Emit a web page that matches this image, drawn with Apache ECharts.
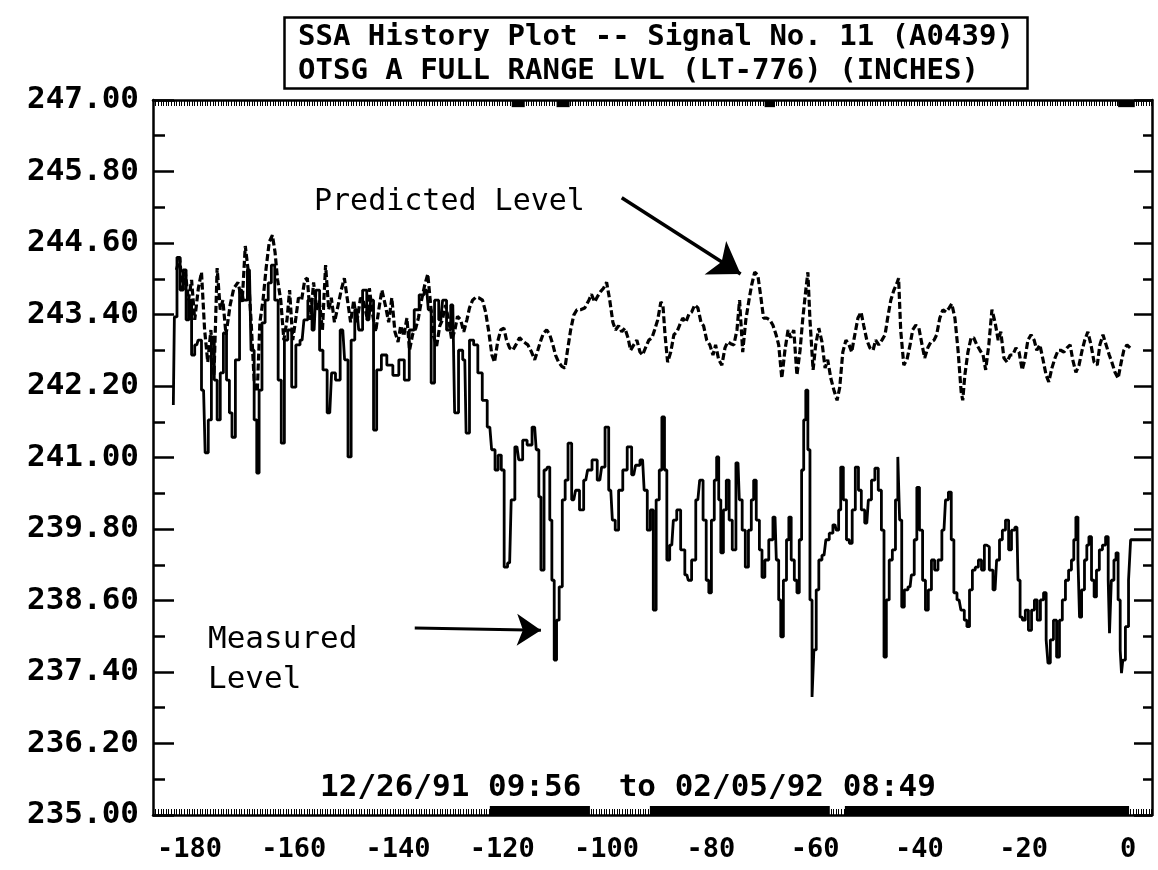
<!DOCTYPE html>
<html>
<head>
<meta charset="utf-8">
<script src="https://cdn.jsdelivr.net/npm/echarts@6/dist/echarts.min.js"></script>
<style>html,body{margin:0;padding:0;background:#fff}#c{width:1158px;height:870px}</style>
</head>
<body>
<div id="c"></div>
<script>
const titleLines = ['SSA History Plot -- Signal No. 11 (A0439)', 'OTSG A FULL RANGE LVL (LT-776) (INCHES)'];
const dateRange = '12/26/91 09:56  to 02/05/92 08:49';
const xTicks = [-180, -160, -140, -120, -100, -80, -60, -40, -20, 0];
const yTicks = [235.0, 236.2, 237.4, 238.6, 239.8, 241.0, 242.2, 243.4, 244.6, 245.8, 247.0];
const yMinorTicks = [235.6, 236.8, 238.0, 239.2, 240.4, 241.6, 242.8, 244.0, 245.2, 246.4];

// Measured level [time, inches]
const measured = [
[-183.1,241.88],[-182.7,243.36],[-182.1,244.36],[-181.5,243.81],[-180.9,244.15],[-180.4,243.31],[-179.8,243.64],[-179.4,242.72],[-178.6,242.89],[-178.1,242.97],
[-177.3,242.13],[-176.7,241.08],[-176.1,241.63],[-175.5,243.02],[-175.0,242.30],[-174.4,241.63],[-173.8,242.42],[-173.2,243.09],[-172.6,242.30],[-172.1,241.75],
[-171.6,241.34],[-170.8,242.64],[-170.0,243.81],[-169.3,243.64],[-168.5,244.15],[-167.9,242.80],[-167.3,241.63],[-166.9,240.74],[-166.4,242.13],[-165.8,243.26],
[-165.2,243.64],[-164.6,243.93],[-164.0,244.23],[-163.3,243.64],[-162.7,242.30],[-162.1,241.24],[-161.5,242.97],[-160.8,243.14],[-160.0,242.18],[-159.2,242.89],
[-158.4,242.97],[-157.7,243.31],[-156.9,243.64],[-156.1,243.14],[-155.4,243.81],[-154.7,242.80],[-154.1,242.47],[-153.1,241.75],[-152.4,242.42],[-151.6,242.30],
[-150.6,243.14],[-149.9,242.64],[-149.3,241.01],[-148.7,242.97],[-147.9,243.48],[-147.2,243.14],[-146.4,243.81],[-145.6,243.31],[-144.9,243.64],[-144.5,241.46],
[-143.7,242.47],[-142.7,242.72],[-141.6,242.55],[-140.4,242.38],[-139.3,242.64],[-138.3,242.30],[-137.4,243.14],[-136.4,243.48],[-135.5,243.73],[-134.5,243.81],
[-133.9,243.48],[-133.4,242.25],[-132.6,243.64],[-131.8,243.31],[-131.1,243.64],[-130.3,243.14],[-129.5,243.56],[-128.8,241.75],[-128.0,242.80],[-127.2,242.64],
[-126.7,241.41],[-125.9,242.97],[-125.1,242.89],[-124.3,242.42],[-123.4,241.96],[-122.4,241.51],[-121.7,241.13],[-121.1,240.79],[-120.5,241.04],[-119.9,240.79],
[-119.4,239.16],[-118.6,239.23],[-118.0,240.29],[-117.2,241.18],[-116.5,240.96],[-115.7,241.29],[-114.8,241.21],[-113.8,241.51],[-113.2,241.13],[-112.8,240.34],
[-112.4,239.11],[-111.6,240.79],[-111.1,240.84],[-110.7,239.95],[-110.3,238.94],[-109.8,237.60],[-109.4,238.27],[-108.8,238.83],[-108.2,240.29],[-107.7,240.62],
[-107.1,241.24],[-106.3,240.29],[-105.6,240.45],[-104.8,240.12],[-104.0,240.62],[-103.3,240.79],[-102.3,240.96],[-101.3,240.62],[-100.6,240.84],[-100.0,241.51],
[-99.2,240.45],[-98.6,239.95],[-98.1,239.78],[-97.3,240.45],[-96.5,240.79],[-95.6,241.18],[-94.8,240.71],[-94.1,240.87],[-93.1,240.96],[-92.5,240.45],
[-91.9,239.78],[-91.3,240.12],[-90.8,238.44],[-90.2,240.29],[-89.6,240.79],[-89.2,241.68],[-88.6,240.79],[-88.3,239.28],[-87.5,239.53],[-86.9,239.95],
[-86.2,240.12],[-85.4,239.45],[-84.6,239.03],[-84.1,238.94],[-83.3,239.28],[-82.5,240.29],[-81.8,240.62],[-81.2,239.95],[-80.6,238.94],[-80.2,238.73],
[-79.6,239.95],[-79.1,240.62],[-78.7,241.01],[-78.3,240.29],[-77.9,239.40],[-77.3,240.12],[-76.8,240.62],[-76.2,239.95],[-75.6,239.45],[-74.8,240.91],
[-74.3,240.29],[-73.7,239.78],[-73.1,239.16],[-72.5,239.78],[-72.0,240.29],[-71.6,240.62],[-71.0,239.95],[-70.4,239.45],[-70.0,238.99],[-69.3,239.28],
[-68.5,239.62],[-67.7,240.00],[-67.2,239.28],[-66.8,238.61],[-66.4,237.99],[-65.8,238.94],[-65.2,239.62],[-64.9,240.00],[-64.3,239.28],[-63.7,238.94],
[-63.3,238.73],[-62.8,239.62],[-62.4,240.79],[-62.0,241.63],[-61.6,242.13],[-61.2,241.13],[-60.8,238.61],[-60.4,236.98],[-60.1,237.77],[-59.5,238.78],
[-59.1,239.28],[-58.3,239.36],[-57.6,239.62],[-57.0,239.73],[-56.2,239.87],[-55.7,239.78],[-55.3,240.12],[-54.9,240.84],[-54.3,240.29],[-53.7,239.62],
[-53.2,239.56],[-52.6,240.12],[-52.0,240.84],[-51.4,240.45],[-50.9,240.12],[-50.1,239.90],[-49.5,240.29],[-48.9,240.62],[-48.2,240.82],[-47.6,240.45],
[-47.0,239.78],[-46.6,237.65],[-46.1,238.61],[-45.5,239.28],[-44.9,239.45],[-44.3,240.29],[-44.0,241.01],[-43.6,239.95],[-43.2,238.49],[-42.6,238.78],
[-41.8,238.83],[-41.3,239.03],[-40.7,239.62],[-40.3,240.50],[-39.7,239.78],[-39.1,238.94],[-38.6,238.44],[-38.0,238.78],[-37.4,239.28],[-36.8,239.11],
[-36.1,239.28],[-35.3,239.78],[-34.7,240.29],[-34.2,240.42],[-33.6,239.62],[-33.2,238.73],[-32.4,238.61],[-31.7,238.44],[-31.1,238.27],[-30.7,238.16],
[-30.1,238.78],[-29.6,239.11],[-29.0,239.16],[-28.4,239.28],[-27.8,239.11],[-27.3,239.53],[-26.9,239.50],[-26.3,239.11],[-25.5,238.78],[-24.9,239.28],
[-24.4,239.62],[-23.8,239.78],[-23.2,239.95],[-22.6,239.45],[-22.1,239.78],[-21.3,239.83],[-20.9,238.94],[-20.5,238.32],[-20.0,238.27],[-19.4,238.44],
[-18.8,238.10],[-18.2,238.44],[-17.7,238.61],[-17.1,238.27],[-16.5,238.61],[-15.9,238.73],[-15.5,237.94],[-15.2,237.55],[-14.6,237.94],[-14.0,238.27],
[-13.4,237.65],[-12.9,238.27],[-12.3,238.61],[-11.7,238.94],[-11.1,239.11],[-10.6,239.28],[-10.2,239.62],[-9.8,240.00],[-9.4,239.28],[-9.2,238.32],
[-8.6,238.78],[-8.1,239.28],[-7.7,239.53],[-7.3,239.67],[-6.7,238.94],[-6.3,238.66],[-5.8,239.11],[-5.2,239.45],[-4.6,239.53],[-4.0,239.67],
[-3.6,238.94],[-3.5,238.05],[-2.9,238.94],[-2.5,239.28],[-2.1,239.40],[-1.7,238.61],[-1.3,237.77],[-1.2,237.38],[-0.8,237.60],[-0.2,238.16],
[0.4,238.94],[0.6,239.62],[4.4,239.62]
];

// Predicted level [time, inches]
const predicted = [
[-182.5,244.15],[-181.9,244.35],[-181.3,243.81],[-180.8,244.11],[-180.2,243.64],[-179.6,243.98],[-179.0,243.31],[-178.3,243.84],[-177.7,244.11],[-177.1,243.14],
[-176.5,242.60],[-175.9,243.14],[-175.3,242.38],[-174.7,244.18],[-174.1,243.48],[-173.6,243.64],[-173.0,243.06],[-172.2,243.56],[-171.5,243.84],[-170.7,243.94],
[-169.9,243.61],[-169.3,244.55],[-168.8,244.18],[-168.2,243.31],[-167.6,242.30],[-167.0,242.10],[-166.5,243.27],[-165.9,243.64],[-165.3,244.18],[-164.7,244.62],
[-164.1,244.73],[-163.6,244.45],[-163.1,243.98],[-162.5,243.64],[-161.9,242.97],[-161.3,243.31],[-160.8,243.81],[-160.2,242.97],[-159.6,243.34],[-159.1,243.68],
[-158.5,243.64],[-157.9,243.98],[-157.4,244.01],[-156.8,243.31],[-156.2,243.94],[-155.6,243.48],[-155.1,243.64],[-154.5,243.14],[-153.9,244.23],[-153.3,243.48],
[-152.8,243.68],[-152.2,243.27],[-151.6,243.51],[-150.9,243.81],[-150.3,244.01],[-149.7,243.64],[-149.1,243.27],[-148.5,243.64],[-147.9,243.27],[-147.2,243.68],
[-146.6,243.61],[-146.0,243.37],[-145.5,243.84],[-144.9,243.41],[-144.3,243.11],[-143.7,243.48],[-143.1,243.81],[-142.4,243.54],[-141.8,243.27],[-141.2,243.68],
[-140.6,243.11],[-140.0,242.94],[-139.5,243.21],[-138.9,243.04],[-138.3,243.34],[-137.8,242.80],[-137.2,243.07],[-136.6,243.17],[-136.1,243.34],[-135.5,243.64],
[-134.9,243.89],[-134.3,244.08],[-133.8,243.61],[-133.2,243.04],[-132.6,242.87],[-132.0,243.21],[-131.5,243.31],[-130.9,243.56],[-130.3,243.31],[-129.7,242.97],
[-129.1,243.14],[-128.6,243.37],[-128.0,243.31],[-127.4,243.11],[-126.8,243.31],[-126.3,243.51],[-125.7,243.64],[-125.1,243.69],[-124.5,243.68],[-123.8,243.64],
[-123.2,243.44],[-122.6,243.11],[-122.0,242.72],[-121.5,242.60],[-120.9,242.94],[-120.3,243.14],[-119.7,243.17],[-119.2,242.97],[-118.6,242.84],[-118.0,242.80],
[-117.4,242.89],[-116.7,243.01],[-115.9,242.94],[-115.1,242.89],[-114.4,242.77],[-113.8,242.64],[-113.2,242.80],[-112.6,242.97],[-112.1,243.09],[-111.5,243.14],
[-110.9,243.06],[-110.3,242.89],[-109.8,242.72],[-109.2,242.60],[-108.6,242.53],[-108.0,242.50],[-107.5,242.80],[-106.9,243.14],[-106.3,243.39],[-105.7,243.48],
[-105.0,243.48],[-104.2,243.51],[-103.4,243.64],[-102.9,243.74],[-102.3,243.61],[-101.7,243.71],[-101.2,243.78],[-100.6,243.84],[-100.0,243.94],[-99.4,243.64],
[-98.8,243.27],[-98.3,243.14],[-97.7,243.21],[-97.1,243.11],[-96.5,243.17],[-95.9,243.01],[-95.4,242.80],[-94.8,242.89],[-94.2,242.97],[-93.6,242.77],
[-93.1,242.72],[-92.5,242.85],[-91.9,242.97],[-91.3,243.01],[-90.8,243.14],[-90.2,243.31],[-89.6,243.61],[-89.2,243.56],[-88.8,243.06],[-88.3,242.60],
[-87.7,242.77],[-87.1,243.06],[-86.5,243.11],[-86.0,243.22],[-85.4,243.34],[-84.8,243.27],[-84.2,243.41],[-83.7,243.44],[-83.1,243.56],[-82.5,243.51],
[-81.9,243.27],[-81.4,243.21],[-80.8,242.97],[-80.2,242.89],[-79.6,242.72],[-79.1,242.89],[-78.5,242.64],[-77.9,242.55],[-77.3,242.84],[-76.8,242.94],
[-76.2,242.91],[-75.6,242.89],[-75.0,243.14],[-74.5,243.64],[-73.9,242.77],[-73.3,243.31],[-72.7,243.64],[-72.2,243.89],[-71.6,244.11],[-71.0,244.06],
[-70.4,243.68],[-69.9,243.34],[-69.3,243.34],[-68.7,243.31],[-68.1,243.22],[-67.5,243.06],[-67.0,242.89],[-66.4,242.33],[-65.8,242.80],[-65.2,243.14],
[-64.7,243.01],[-64.1,243.14],[-63.5,242.38],[-62.9,242.80],[-62.4,243.31],[-61.8,243.81],[-61.4,244.11],[-61.0,243.31],[-60.4,242.47],[-59.9,242.89],
[-59.3,243.17],[-58.7,242.94],[-58.1,242.50],[-57.6,242.64],[-57.0,242.33],[-56.4,242.13],[-55.8,241.96],[-55.3,242.17],[-54.7,242.77],[-54.1,242.97],
[-53.5,242.89],[-53.0,242.77],[-52.4,243.06],[-51.8,243.34],[-51.2,243.44],[-50.7,243.22],[-50.1,242.97],[-49.5,242.84],[-48.9,242.80],[-48.4,242.97],
[-47.8,242.89],[-47.2,242.97],[-46.6,243.06],[-46.1,243.34],[-45.5,243.64],[-44.9,243.81],[-44.3,243.93],[-44.0,244.01],[-43.6,243.14],[-43.0,242.55],
[-42.4,242.64],[-41.8,242.89],[-41.3,243.14],[-40.7,243.22],[-40.1,243.17],[-39.5,242.89],[-39.0,242.67],[-38.4,242.84],[-37.8,242.94],[-37.2,242.97],
[-36.7,243.06],[-36.1,243.34],[-35.5,243.48],[-34.9,243.44],[-34.3,243.51],[-33.8,243.58],[-33.2,243.34],[-32.6,242.80],[-32.0,242.10],[-31.7,241.96],
[-31.3,242.38],[-30.7,242.77],[-30.1,243.01],[-29.6,243.01],[-29.0,242.89],[-28.4,242.80],[-27.8,242.72],[-27.3,242.47],[-26.7,242.89],[-26.1,243.48],
[-25.5,243.27],[-24.9,242.97],[-24.4,243.11],[-23.8,242.67],[-23.2,242.60],[-22.6,242.72],[-22.1,242.72],[-21.5,242.84],[-20.9,242.77],[-20.3,242.47],
[-19.8,242.64],[-19.2,242.97],[-18.6,243.06],[-18.0,242.97],[-17.5,242.80],[-16.9,242.89],[-16.3,242.64],[-15.7,242.38],[-15.2,242.27],[-14.6,242.50],
[-14.0,242.67],[-13.4,242.80],[-12.9,242.80],[-12.3,242.77],[-11.7,242.84],[-11.1,242.89],[-10.6,242.64],[-10.0,242.43],[-9.4,242.55],[-8.8,242.80],
[-8.3,242.97],[-7.7,243.11],[-7.1,242.89],[-6.5,242.60],[-5.9,242.55],[-5.4,242.89],[-4.8,243.06],[-4.2,242.89],[-3.6,242.72],[-3.1,242.60],
[-2.5,242.43],[-1.9,242.33],[-1.3,242.60],[-0.8,242.80],[-0.2,242.89],[0.4,242.84]
];

// dense sample-marker bands along the frame edges [from, to]
const bottomBands = [[-122.4, -103.2], [-91.7, -57.2], [-54.3, 0.2]];
const topBands = [[-118.2, -115.7], [-109.6, -107.1], [-69.7, -67.7], [-1.9, 1.3]];

// annotation arrows [[t1, v1], [t2, v2]]
const predictedArrow = [[-97.1, 245.36], [-74.3, 244.08]];
const measuredArrow = [[-136.8, 238.14], [-112.6, 238.10]];

const X_MIN = -187, X_MAX = 4.6, Y_MIN = 235, Y_MAX = 247;
const MONO = '"DejaVu Sans Mono", "Liberation Mono", monospace';

const chart = echarts.init(document.getElementById('c'), null, {renderer: 'canvas'});

const baseX = {type: 'value', min: X_MIN, max: X_MAX, gridIndex: 0, splitLine: {show: false}};
const baseY = {type: 'value', min: Y_MIN, max: Y_MAX, gridIndex: 0, splitLine: {show: false}};
const LINE = {color: '#000', width: 2.5};

const option = {
  animation: false,
  backgroundColor: '#fff',
  title: {
    text: titleLines.join('\n'),
    left: 284, top: 17,
    borderColor: '#000', borderWidth: 2.5,
    padding: [3, 14, 1, 14],
    textStyle: {fontFamily: MONO, fontSize: 29, fontWeight: 'bold', color: '#000', lineHeight: 34}
  },
  grid: {left: 153, right: 6, top: 100, bottom: 55, containLabel: false},
  xAxis: [
    Object.assign({}, baseX, {
      position: 'bottom',
      axisLine: {show: true, onZero: false, lineStyle: LINE},
      axisTick: {show: false},
      axisLabel: {customValues: xTicks, margin: 21, color: '#000', fontFamily: MONO, fontSize: 27, fontWeight: 'bold',
        formatter: v => String(Math.round(v))}
    }),
    Object.assign({}, baseX, {
      position: 'bottom', interval: 0.5,
      axisLine: {show: false, onZero: false},
      axisTick: {show: true, inside: true, length: 6, lineStyle: {color: '#000', width: 1}},
      axisLabel: {show: false}
    }),
    Object.assign({}, baseX, {
      position: 'top', interval: 0.5,
      axisLine: {show: true, onZero: false, lineStyle: LINE},
      axisTick: {show: true, inside: true, length: 6, lineStyle: {color: '#000', width: 1}},
      axisLabel: {show: false}
    })
  ],
  yAxis: [
    Object.assign({}, baseY, {
      position: 'left',
      axisLine: {show: true, onZero: false, lineStyle: LINE},
      axisTick: {show: true, inside: true, length: 21, customValues: yTicks, lineStyle: LINE},
      axisLabel: {customValues: yTicks, margin: 14, color: '#000', fontFamily: MONO, fontSize: 31, fontWeight: 'bold',
        formatter: v => v.toFixed(2)}
    }),
    Object.assign({}, baseY, {
      position: 'left',
      axisLine: {show: false, onZero: false},
      axisTick: {show: true, inside: true, length: 12, customValues: yMinorTicks, lineStyle: LINE},
      axisLabel: {show: false}
    }),
    Object.assign({}, baseY, {
      position: 'right',
      axisLine: {show: true, onZero: false, lineStyle: LINE},
      axisTick: {show: true, inside: true, length: 18, customValues: yTicks, lineStyle: LINE},
      axisLabel: {show: false}
    }),
    Object.assign({}, baseY, {
      position: 'right',
      axisLine: {show: false, onZero: false},
      axisTick: {show: true, inside: true, length: 9, customValues: yMinorTicks, lineStyle: LINE},
      axisLabel: {show: false}
    })
  ],
  series: [
    {
      name: 'Predicted Level', type: 'line', xAxisIndex: 0, yAxisIndex: 0,
      data: predicted, showSymbol: false, symbol: 'none',
      lineStyle: {color: '#000', width: 3.2, type: [7, 3]},
      markLine: {
        silent: true, symbol: ['none', 'arrow'], symbolSize: 30,
        label: {show: false},
        lineStyle: {color: '#000', width: 3.5, type: 'solid'},
        data: [
          [{coord: predictedArrow[0]}, {coord: predictedArrow[1]}]
        ]
      },
      z: 3
    },
    {
      name: 'Measured Level', type: 'line', xAxisIndex: 0, yAxisIndex: 0,
      data: measured, showSymbol: false, symbol: 'none', step: 'middle',
      lineStyle: {color: '#000', width: 2.8},
      markLine: {
        silent: true, symbol: ['none', 'arrow'], symbolSize: 24,
        label: {show: false},
        lineStyle: {color: '#000', width: 3, type: 'solid'},
        data: [
          [{coord: measuredArrow[0]}, {coord: measuredArrow[1]}]
        ]
      },
      markArea: {
        silent: true,
        itemStyle: {color: '#000'},
        data: bottomBands.map(b => [{coord: [b[0], Y_MIN]}, {coord: [b[1], Y_MIN + 0.15]}])
          .concat(topBands.map(b => [{coord: [b[0], Y_MAX - 0.12]}, {coord: [b[1], Y_MAX]}]))
      },
      z: 4
    }
  ],
  graphic: [
    {type: 'text', left: 314, top: 187, silent: true,
      style: {text: 'Predicted Level', font: '30px ' + MONO, fill: '#000'}},
    {type: 'text', left: 208, top: 620, silent: true,
      style: {text: 'Measured\nLevel', font: '31px ' + MONO, fill: '#000', lineHeight: 40}},
    {type: 'text', x: 628, y: 788, silent: true,
      style: {text: dateRange, font: 'bold 31px ' + MONO, fill: '#000', align: 'center', verticalAlign: 'middle'}}
  ]
};
chart.setOption(option);
</script>
</body>
</html>
